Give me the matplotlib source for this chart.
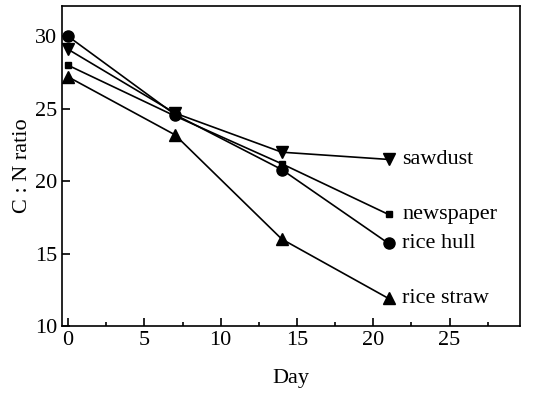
import matplotlib
matplotlib.use("Agg")
from matplotlib import pyplot as plt
from matplotlib.ticker import MultipleLocator

days = [0, 7, 14, 21]
rice_hull = [30.0, 24.6, 20.8, 15.7]
sawdust = [29.1, 24.7, 22.0, 21.5]
newspaper = [28.0, 24.5, 21.2, 17.7]
rice_straw = [27.2, 23.2, 16.0, 11.9]

series = [
    ("sawdust", sawdust, "v", 8),
    ("newspaper", newspaper, "s", 5),
    ("rice hull", rice_hull, "o", 8),
    ("rice straw", rice_straw, "^", 8),
]

plt.rcParams['font.family'] = ['Liberation Serif', 'DejaVu Serif']

fig = plt.figure(figsize=(5.46, 3.94), dpi=100)
ax = fig.add_axes([0.1136, 0.1726, 0.8384, 0.8124])

for name, vals, mk, ms in series:
    ax.plot(days, vals, color='black', lw=1.2, marker=mk, ms=ms)
    ax.text(days[-1] + 0.9, vals[-1], name, fontsize=16, va='center', ha='left')

ax.set_xlim(-0.4, 29.6)
ax.set_ylim(10, 32.1)
ax.xaxis.set_major_locator(MultipleLocator(5))
ax.xaxis.set_minor_locator(MultipleLocator(2.5))
ax.yaxis.set_major_locator(MultipleLocator(5))
for s in ax.spines.values():
    s.set_linewidth(1.2)
ax.tick_params(direction='in', labelsize=16, which='both', width=1.2)
ax.tick_params(which='major', length=6)
ax.tick_params(which='minor', length=3)
ax.set_xlabel("Day", fontsize=16, labelpad=14)
ax.set_ylabel("C : N ratio", fontsize=16, labelpad=2)

fig.savefig("out.png", dpi=100)
